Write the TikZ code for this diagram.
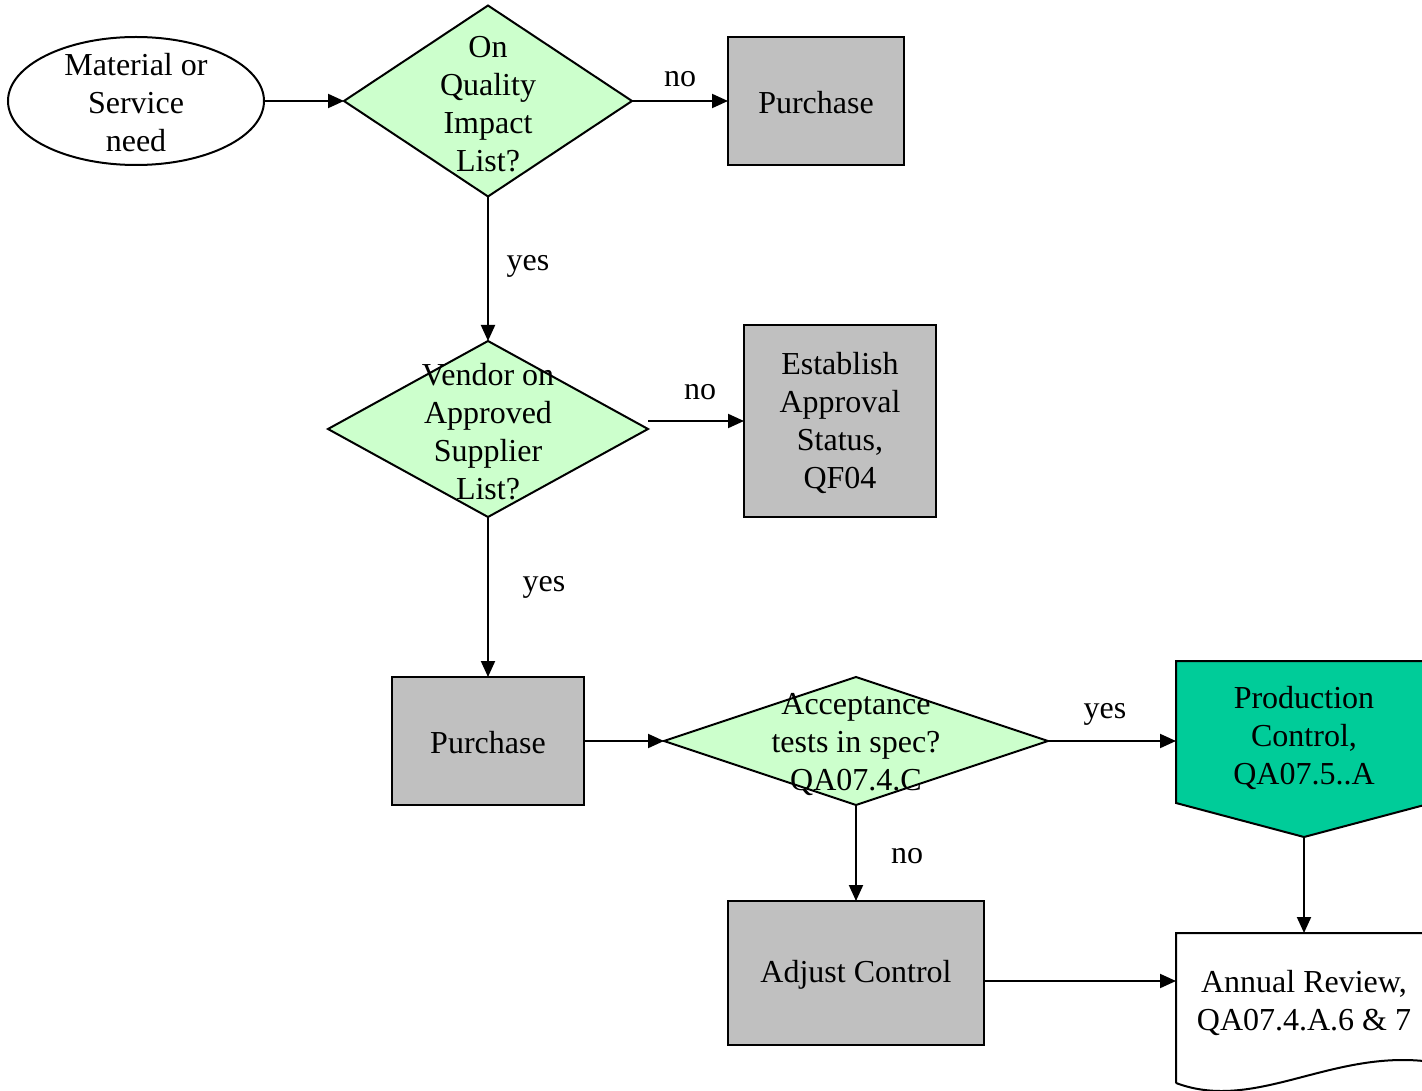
\documentclass[tikz,border=0pt]{standalone}
\usepackage{fontspec}
\setmainfont{Liberation Serif}
\usetikzlibrary{shapes.geometric,arrows.meta,calc}
\definecolor{decgreen}{HTML}{CCFFCC}
\definecolor{procgray}{HTML}{C0C0C0}
\definecolor{ctrlteal}{HTML}{00CC99}
\begin{document}
\begin{tikzpicture}[x=1pt,y=-1pt,
  every node/.style={font=\fontsize{32}{38}\selectfont},
  shapebox/.style={draw=black, line width=2pt, inner sep=0pt, outer sep=0pt},
  decision/.style={shapebox, diamond, fill=decgreen},
  process/.style={shapebox, rectangle, fill=procgray},
  caption/.style={align=center, inner sep=0pt},
  boxtext/.style={label={[caption, yshift=-2pt]center:{#1}}},
  edgelabel/.style={inner sep=0pt},
  outline/.style={draw=black, line width=2pt, line join=miter},
  flow/.style={draw=black, line width=2pt, -{Triangle[length=16pt,width=14pt]}}
]
\useasboundingbox (0,0) rectangle (1422,1091);
\clip (0,0) rectangle (1422,1091);

% start terminal
\node[shapebox, ellipse, minimum width=256pt, minimum height=128pt] (need) at (136,101) {};
\node[caption] (needtxt) at (136,103) {Material or\\Service\\need};

% first decision
\node[decision, minimum width=288pt, minimum height=191pt] (qil) at (488,101) {};
\node[caption] (qiltxt) at (488,104) {On\\Quality\\Impact\\List?};

\node[process, minimum width=176pt, minimum height=128pt, boxtext=Purchase] (buy1) at (816,101) {};

% second decision
\node[decision, minimum width=320pt, minimum height=176pt] (asl) at (488,429) {};
\node[caption] (asltxt) at (488,432) {Vendor on\\Approved\\Supplier\\List?};

\node[process, minimum width=192pt, minimum height=192pt,
      boxtext={Establish\\Approval\\Status,\\QF04}] (est) at (840,421) {};

\node[process, minimum width=192pt, minimum height=128pt, boxtext=Purchase] (buy2) at (488,741) {};

% acceptance decision
\node[decision, minimum width=384pt, minimum height=128pt] (acc) at (856,741) {};
\node[caption] (acctxt) at (856,745) {Acceptance\\tests in spec?\\QA07.4.C};

% production control (runs past the right edge)
\node[inner sep=0pt, outer sep=0pt, minimum width=256pt, minimum height=176pt] (prod) at (1304,749) {};
\path[outline, fill=ctrlteal] (prod.north west) -- (prod.north east)
  -- ($(prod.south east)+(0,-34)$) -- (prod.south) -- ($(prod.south west)+(0,-34)$) -- cycle;
\node[caption] (prodtxt) at (1304,738) {Production\\Control,\\QA07.5..A};

\node[process, minimum width=256pt, minimum height=144pt, boxtext=Adjust Control] (adj) at (856,973) {};

% annual review document
\node[inner sep=0pt, outer sep=0pt, minimum width=256pt, minimum height=96pt] (rev) at (1304,981) {};
\path[outline, fill=white] ($(rev.north west)+(0,150)$) -- (rev.north west) -- (rev.north east)
  -- ($(rev.north east)+(0,129)$)
  .. controls ($(rev.north east)+(-100,115)$) and ($(rev.north west)+(80,180)$) .. ($(rev.north west)+(0,150)$);
\node[caption] (revtxt) at (1304,1003) {Annual Review,\\QA07.4.A.6 \& 7};

% connectors
\draw[flow] (need.east) -- (qil.west);
\draw[flow] (qil.east) -- (buy1.west);
\draw[flow] (qil.south) -- (asl.north);
\draw[flow] (asl.east |- est.west) -- (est.west);
\draw[flow] (asl.south) -- (buy2.north);
\draw[flow] (buy2.east) -- (acc.west);
\draw[flow] (acc.east) -- (acc.east -| prod.west);
\draw[flow] (acc.south) -- (adj.north);
\draw[flow] (prod.south) -- (rev.north);
\draw[flow] (adj.east |- rev.west) -- (rev.west);

% connector labels
\node[edgelabel] (lno1) at (680,79) {no};
\node[edgelabel] (lyes1) at (528,266) {yes};
\node[edgelabel] (lno2) at (700,392) {no};
\node[edgelabel] (lyes2) at (544,587) {yes};
\node[edgelabel] (lyes3) at (1105,714) {yes};
\node[edgelabel] (lno3) at (907,856) {no};
\end{tikzpicture}
\end{document}
